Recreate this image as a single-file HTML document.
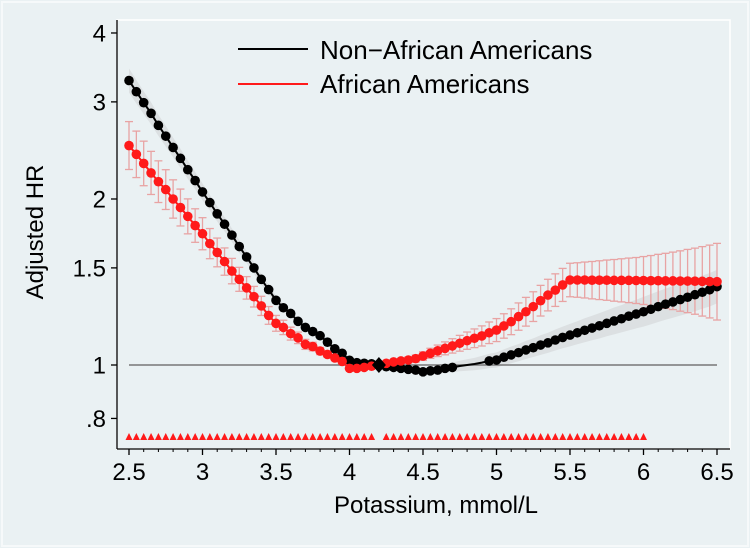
<!DOCTYPE html>
<html><head><meta charset="utf-8"><style>
html,body{margin:0;padding:0;background:#eaf1f3;}
svg{display:block;font-family:"Liberation Sans",sans-serif;}
</style></head><body>
<svg id="chart" width="750" height="548" viewBox="0 0 750 548">
<rect x="0" y="0" width="750" height="548" fill="#eaf1f3"/>
<rect x="2" y="2" width="746" height="544" fill="none" stroke="#f6f9fa" stroke-width="2"/>
<rect x="117" y="20" width="613" height="429" fill="#eaf1f3" stroke="#ffffff" stroke-width="1.5"/>
<g id="band"></g>
<g id="errs"></g>
<g id="lines"></g>
<g id="pts"></g>
<g id="axes"></g>
<g>
<line x1="238" y1="49" x2="308" y2="49" stroke="#000" stroke-width="2"/>
<text x="320" y="59" font-size="26">Non−African Americans</text>
<line x1="238" y1="84" x2="308" y2="84" stroke="#ff1a1a" stroke-width="2"/>
<text x="320" y="93" font-size="26">African Americans</text>
</g>
<text x="436" y="513" font-size="24" text-anchor="middle">Potassium, mmol/L</text>
<text transform="translate(43,232) rotate(-90)" font-size="24" text-anchor="middle">Adjusted HR</text>
</svg>
<script>
const blackHR=[3.28,3.13,2.99,2.86,2.72,2.60,2.48,2.37,2.26,2.16,2.06,1.97,1.88,1.80,1.72,1.64,1.57,1.50,1.43,1.37,1.31,1.27,1.24,1.20,1.17,1.15,1.13,1.10,1.07,1.05,1.02,1.01,1.007,1.005,1.0,
0.993,0.990,0.986,0.982,0.979,0.972,0.976,0.979,0.986,0.990,0.996,1.0,1.004,1.01,1.017,1.021,1.033,1.043,1.053,1.065,1.075,1.087,1.097,1.11,1.122,1.133,1.144,1.156,1.167,1.178,1.19,1.202,1.213,1.226,1.237,1.249,1.262,1.276,1.289,1.301,1.314,1.327,1.341,1.355,1.369,1.387];
const redHR=[2.50,2.41,2.32,2.23,2.15,2.08,2.00,1.93,1.86,1.79,1.73,1.66,1.60,1.54,1.48,1.43,1.38,1.33,1.28,1.23,1.19,1.17,1.14,1.12,1.09,1.08,1.06,1.045,1.03,1.015,0.986,0.986,0.99,0.995,1.0,
1.007,1.013,1.017,1.021,1.027,1.038,1.05,1.061,1.072,1.083,1.095,1.107,1.118,1.129,1.144,1.157,1.177,1.198,1.224,1.249,1.276,1.308,1.339,1.367,1.397,1.426,
1.426,1.426,1.425,1.425,1.425,1.424,1.424,1.424,1.423,1.423,1.422,1.422,1.421,1.421,1.42,1.42,1.419,1.418,1.417,1.416];
const redCI=[0.10,0.097,0.093,0.09,0.087,0.083,0.08,0.077,0.073,0.07,0.067,0.063,0.06,0.057,0.053,0.05,0.047,0.043,0.04,0.037,0.033,0.03,0.027,0.024,0.021,0.018,0.015,0.012,0.009,0.006,0.004,
0.003,0.002,0.001,0,
0.003,0.006,0.009,0.012,0.015,0.018,0.021,0.024,0.027,0.03,0.033,0.036,0.039,0.042,0.045,0.048,0.051,0.054,0.057,0.06,0.062,0.064,0.066,0.068,0.069,0.07,
0.072,0.075,0.078,0.081,0.084,0.087,0.09,0.093,0.096,0.1,0.105,0.11,0.115,0.12,0.126,0.132,0.138,0.145,0.152,0.16];
const blackCI=[0.05,0.049,0.047,0.046,0.044,0.043,0.041,0.04,0.038,0.036,0.035,0.033,0.032,0.03,0.028,0.027,0.025,0.024,0.022,0.02,0.019,0.017,0.016,0.014,0.012,0.011,0.009,0.008,0.006,0.005,0.004,
0.003,0.002,0.001,0,
0.002,0.004,0.006,0.008,0.01,0.012,0.014,0.016,0.018,0.02,0.022,0.024,0.026,0.028,0.03,0.032,0.033,0.035,0.036,0.038,0.039,0.041,0.042,0.044,0.045,0.047,
0.048,0.05,0.051,0.053,0.054,0.056,0.057,0.059,0.06,0.062,0.063,0.064,0.065,0.066,0.067,0.068,0.069,0.069,0.07,0.07];
const xStart=2.5, xStep=0.05;
const triX=[2.5,2.55,2.6,2.65,2.7,2.75,2.8,2.85,2.9,2.95,3.0,3.05,3.1,3.15,3.2,3.25,3.3,3.35,3.4,3.45,3.5,3.55,3.6,3.65,3.7,3.75,3.8,3.85,3.9,3.95,4.0,4.05,4.1,4.15,
4.25,4.3,4.35,4.4,4.45,4.5,4.55,4.6,4.65,4.7,4.75,4.8,4.85,4.9,4.95,5.0,5.05,5.1,5.15,5.2,5.25,5.3,5.35,5.4,5.45,5.5,5.55,5.6,5.65,5.7,5.75,5.8,5.85,5.9,5.95,6.0];
const xTicks=[2.5,3,3.5,4,4.5,5,5.5,6,6.5];
const xTickLabels=["2.5","3","3.5","4","4.5","5","5.5","6","6.5"];
const yTicks=[0.8,1,1.5,2,3,4];
const yTickLabels=[".8","1","1.5","2","3","4"];
const refX=4.2, refHR=1;

const NS="http://www.w3.org/2000/svg";
const X=v=>129+(v-2.5)*147;
const Y=v=>365-Math.log(v)*239.5;
function mk(tag,attrs,parent){const e=document.createElementNS(NS,tag);for(const k in attrs)e.setAttribute(k,attrs[k]);parent.appendChild(e);return e;}
const band=document.getElementById('band'),errs=document.getElementById('errs'),lines=document.getElementById('lines'),pts=document.getElementById('pts'),axes=document.getElementById('axes');
const xs=blackHR.map((_,i)=>xStart+i*xStep);

let up=xs.map((x,i)=>X(x)+','+Y(blackHR[i]*Math.exp(blackCI[i]))).join(' ');
let lo=xs.map((x,i)=>X(x)+','+Y(blackHR[i]/Math.exp(blackCI[i]))).reverse().join(' ');
const bp=mk('polygon',{points:up+' '+lo,fill:'#d8dcdd',opacity:'0.8'},band);



const rl=mk('line',{x1:X(2.5),x2:X(6.5),y1:Y(1),y2:Y(1),stroke:'#777',"stroke-width":1.5},lines);



xs.forEach((x,i)=>{if(redCI[i]<=0.002)return;
 const g=mk('g',{stroke:'#e8a3a3',"stroke-width":1.3},errs);
 
 
 const yu=Y(redHR[i]*Math.exp(redCI[i])),yl=Y(redHR[i]/Math.exp(redCI[i])),cx=X(x);
 mk('line',{x1:cx,x2:cx,y1:yu,y2:yl},g);
 mk('line',{x1:cx-4,x2:cx+4,y1:yu,y2:yu},g);
 mk('line',{x1:cx-4,x2:cx+4,y1:yl,y2:yl},g);
});

function series(arr,color,name,skip){
 const pl=mk('polyline',{points:xs.map((x,i)=>X(x)+','+Y(arr[i])).join(' '),fill:'none',stroke:color,"stroke-width":2},lines);
 
 
 xs.forEach((x,i)=>{
  if(skip && x>4.72 && x<4.93) return;
  const c=mk('circle',{cx:X(x),cy:Y(arr[i]),r:4.8,fill:color},pts);
  
  
 });
}
series(blackHR,'#000','non-african-americans',true);
series(redHR,'#ff1a1a','african-americans',false);

const d=mk('polygon',{points:[[X(refX),Y(refHR)-8],[X(refX)+7,Y(refHR)],[X(refX),Y(refHR)+8],[X(refX)-7,Y(refHR)]].join(' '),fill:'#000'},pts);



triX.forEach(t=>{
 const cx=X(t),cy=437;
 const tr=mk('polygon',{points:`${cx-3.5},${cy+3} ${cx+3.5},${cy+3} ${cx},${cy-4}`,fill:'#ff1a1a'},pts);
 
 
});

mk('line',{x1:117,x2:117,y1:20,y2:449,stroke:'#000',"stroke-width":1.3},axes);
mk('line',{x1:117,x2:730,y1:449,y2:449,stroke:'#000',"stroke-width":1.3},axes);
yTicks.forEach((v,i)=>{
 mk('line',{x1:111,x2:117,y1:Y(v),y2:Y(v),stroke:'#000',"stroke-width":1.3},axes);
 const t=mk('text',{x:106,y:Y(v)+8.5,"font-size":24,"text-anchor":"end"},axes);
 t.textContent=yTickLabels[i];
 
 
});
for(let k=0;k<=40;k++){const v=2.5+k*0.1;
 if(k%5===0)continue;
 mk('line',{x1:X(v),x2:X(v),y1:449,y2:452,stroke:'#000',"stroke-width":1},axes);}
xTicks.forEach((v,i)=>{
 mk('line',{x1:X(v),x2:X(v),y1:449,y2:455,stroke:'#000',"stroke-width":1.3},axes);
 const t=mk('text',{x:X(v),y:480,"font-size":24,"text-anchor":"middle"},axes);
 t.textContent=xTickLabels[i];
 
 
});
</script>
</body></html>
